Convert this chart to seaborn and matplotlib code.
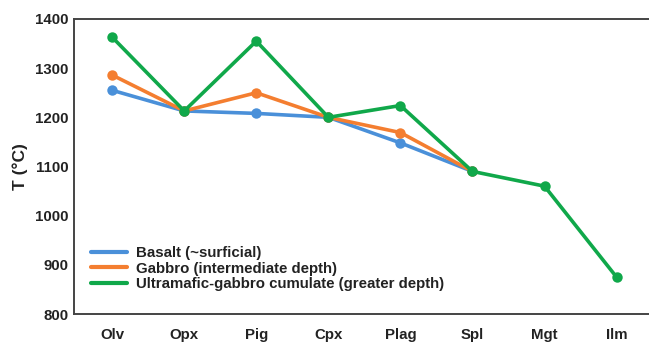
import matplotlib
matplotlib.use("Agg")
import matplotlib.pyplot as plt
import seaborn as sns
import pandas as pd
import numpy as np

minerals = ["Olv", "Opx", "Pig", "Cpx", "Plag", "Spl", "Mgt", "Ilm"]
basalt = [1255, 1213, 1208, 1200, 1148, 1090, None, None]
gabbro = [1286, 1213, 1250, 1200, 1169, 1090, None, None]
ultramafic = [1363, 1213, 1355, 1200, 1224, 1090, 1060, 875]
series_names = ["Basalt (~surficial)", "Gabbro (intermediate depth)",
                "Ultramafic-gabbro cumulate (greater depth)"]
colors = ["#4A90D9", "#F47E30", "#10A84A"]
yticks = [800, 900, 1000, 1100, 1200, 1300, 1400]

rows = []
for name, vals in zip(series_names, [basalt, gabbro, ultramafic]):
    for i, (m, v) in enumerate(zip(minerals, vals)):
        if v is not None:
            rows.append({"pos": i, "mineral": m, "T": v, "series": name})
df = pd.DataFrame(rows)

sns.set_theme(style="white")
plt.rcParams["font.family"] = ["Liberation Sans", "DejaVu Sans"]
plt.rcParams["font.weight"] = "bold"

fig = plt.figure(figsize=(6.49, 3.42), dpi=100)
ax = fig.add_axes([74/649, 1-314/342, 1-74/649, (314-19)/342])

sns.lineplot(data=df, x="pos", y="T", hue="series", hue_order=series_names,
             palette=colors, marker="o", markersize=7.5, markeredgewidth=0,
             linewidth=2.6, sort=False, ax=ax)

ax.set_xlim(-0.53, 7.45)
ax.set_ylim(800, 1400)
ax.set_xticks(range(len(minerals)))
ax.set_xticklabels(minerals, fontsize=10.8, fontweight="bold", color="#222222")
ax.set_yticks(yticks)
ax.set_yticklabels([str(t) for t in yticks], fontsize=10.8, fontweight="bold", color="#222222")
ax.set_xlabel("")
ax.set_ylabel("T (°C)", fontsize=12.5, fontweight="bold", color="#222222", labelpad=5)

for s in ["left", "bottom", "top"]:
    ax.spines[s].set_color("#444444")
    ax.spines[s].set_linewidth(1.4)
ax.spines["right"].set_visible(False)
ax.tick_params(axis="x", direction="in", length=4, width=1, color="#444444", pad=10)
ax.tick_params(axis="y", direction="in", length=0, pad=4)

leg = ax.legend(loc="upper left", bbox_to_anchor=(91/649, 1-246/342),
                bbox_transform=fig.transFigure, frameon=False,
                borderpad=0, borderaxespad=0, handlelength=2.4,
                handletextpad=0.6, labelspacing=0.1,
                prop={"size": 10.8, "weight": "bold"})
for line in leg.get_lines():
    line.set_marker("")
    line.set_linewidth(3)
for t in leg.get_texts():
    t.set_color("#222222")

fig.savefig("out.png", dpi=100)
